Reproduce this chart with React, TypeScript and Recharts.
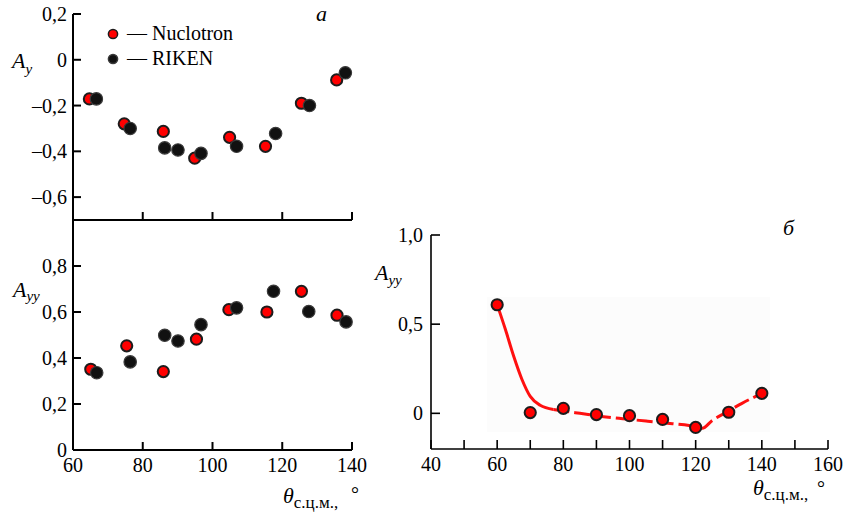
import React from 'react';
import { ComposedChart, Scatter, Line, XAxis, YAxis, Legend, ReferenceArea } from 'recharts';

const SERIF = 'Liberation Serif, Times New Roman, DejaVu Serif, serif';

// panel а, top: A_y vs angle
const nucAyAngle = [64.7, 74.7, 85.9, 94.9, 104.9, 115.2, 125.5, 135.6];
const nucAy = [-0.171, -0.28, -0.313, -0.43, -0.339, -0.378, -0.19, -0.088];
const rikenAyAngle = [66.7, 76.4, 86.3, 90.1, 96.7, 106.9, 118.1, 127.8, 138.1];
const rikenAy = [-0.171, -0.3, -0.385, -0.394, -0.409, -0.378, -0.322, -0.2, -0.057];

// panel а, bottom: A_yy vs angle
const nucAyyAngle = [65.1, 75.4, 85.9, 95.4, 104.7, 115.6, 125.5, 135.7];
const nucAyy = [0.351, 0.453, 0.341, 0.482, 0.61, 0.6, 0.69, 0.586];
const rikenAyyAngle = [66.8, 76.4, 86.3, 90.1, 96.7, 106.9, 117.5, 127.6, 138.3];
const rikenAyy = [0.336, 0.383, 0.499, 0.474, 0.545, 0.618, 0.69, 0.602, 0.557];

// panel б: measured points
const bAngle = [60, 70, 80, 90, 100, 110, 120, 130, 140];
const bAyy = [0.609, 0.004, 0.028, -0.007, -0.013, -0.034, -0.079, 0.006, 0.112];

// panel б: calculated curve (solid up to ~77°, dashed after)
const curveSolidAngle = [60, 62.5, 65, 67.5, 70, 73, 77];
const curveSolid = [0.61, 0.47, 0.32, 0.19, 0.095, 0.045, 0.022];
const curveDashAngle = [77, 80, 85, 95, 105, 113, 118, 122, 125, 129, 134, 140];
const curveDash = [0.022, 0.013, 0.0, -0.025, -0.043, -0.058, -0.068, -0.084, -0.04, 0.003, 0.056, 0.112];

// ticks
const xTicksA = [60, 80, 100, 120, 140];
const yTicksAy = [-0.6, -0.4, -0.2, 0, 0.2];
const yTicksAyy = [0, 0.2, 0.4, 0.6, 0.8];
const xTicksB = [40, 50, 60, 70, 80, 90, 100, 110, 120, 130, 140, 150, 160];
const yTicksB = [0, 0.5, 1.0];

const pts = (xs: number[], ys: number[]) => xs.map((x, i) => ({ x, y: ys[i] }));

const fmt = (v: number) => (v === 0 ? '0' : v.toFixed(1).replace('.', ',').replace('-', '–'));

const RedDot = (p: any) => <circle cx={p.cx} cy={p.cy} r={5.6} fill="#ff0000" stroke="#1c1c1c" strokeWidth={2} />;
const BlackDot = (p: any) => <circle cx={p.cx} cy={p.cy} r={6.2} fill="#111111" stroke="#3a3a3a" strokeWidth={1.2} />;

const axisLine = { stroke: '#000', strokeWidth: 2 };

// ticks point inward, so they are drawn here together with their labels
const makeXTick = (len: number, labelDy: number, sw: number, label: (v: number) => string) => (p: any) => (
  <g>
    <line x1={p.x} x2={p.x} y1={p.y} y2={p.y - len} stroke="#000" strokeWidth={sw} />
    <text x={p.x} y={p.y + labelDy} textAnchor="middle" fontFamily={SERIF} fontSize={20} fill="#000">
      {label(p.payload.value)}
    </text>
  </g>
);

const makeYTick = (len: number, gap: number, sw: number) => (p: any) => (
  <g>
    <line x1={p.x} x2={p.x + len} y1={p.y} y2={p.y} stroke="#000" strokeWidth={sw} />
    <text x={p.x - gap} y={p.y + 7} textAnchor="end" fontFamily={SERIF} fontSize={20} fill="#000">
      {fmt(p.payload.value)}
    </text>
  </g>
);

const AxisTitle = ({ x, y, main, sub, subDy = 5 }: any) => (
  <text x={x} y={y} fontFamily={SERIF} fill="#000" fontSize={22}>
    <tspan fontStyle="italic">{main}</tspan>
    <tspan fontSize={15} dy={subDy} fontStyle="italic">{sub}</tspan>
  </text>
);

const ThetaTitle = ({ x, y, degX, degY }: any) => (
  <g>
    <text x={x} y={y} fontFamily={SERIF} fill="#000" fontSize={22}>
      <tspan fontStyle="italic">θ</tspan>
      <tspan fontSize={17} dy={5}>с.ц.м.,</tspan>
    </text>
    <text x={degX} y={degY} fontFamily={SERIF} fill="#000" fontSize={20}>°</text>
  </g>
);

const TopNotes = () => (
  <g>
    <AxisTitle x={12} y={68} main="A" sub="y" subDy={6} />
    <text x={316} y={21} fontFamily={SERIF} fontStyle="italic" fontSize={22} fill="#000">а</text>
  </g>
);

const BottomNotes = () => (
  <g>
    <AxisTitle x={13} y={87} main="A" sub="yy" subDy={4} />
    <ThetaTitle x={283} y={293} degX={351} degY={291} />
  </g>
);

const RightNotes = () => (
  <g>
    <AxisTitle x={5} y={70} main="A" sub="yy" subDy={5} />
    <text x={413} y={25} fontFamily={SERIF} fontStyle="italic" fontSize={22} fill="#000">б</text>
    <ThetaTitle x={383} y={285} degX={447} degY={285} />
  </g>
);

const legendStroke: Record<string, string> = { Nuclotron: '#1c1c1c', RIKEN: '#3a3a3a' };

const LegendBox = ({ payload }: any) => (
  <svg width={150} height={52} style={{ display: 'block' }}>
    {(payload || []).map((p: any, i: number) => (
      <g key={p.value}>
        <circle cx={13} cy={14 + i * 25} r={4.6} fill={p.color} stroke={legendStroke[p.value]} strokeWidth={1.5} />
        <text x={27} y={20 + i * 25} fontSize={20} fontFamily={SERIF} fill="#000">
          — {p.value}
        </text>
      </g>
    ))}
  </svg>
);

export default function App() {
  return (
    <div
      style={{
        position: 'absolute',
        left: 0,
        top: 0,
        width: 850,
        height: 515,
        background: '#fff',
        fontFamily: SERIF,
      }}
    >
      {/* а, upper: A_y */}
      <div style={{ position: 'absolute', left: 0, top: 0 }}>
        <ComposedChart width={380} height={232} margin={{ top: 14, right: 28, bottom: 0, left: 0 }}>
          <XAxis
            dataKey="x"
            type="number"
            domain={[60, 140]}
            ticks={xTicksA}
            interval={0}
            height={12}
            tickSize={0}
            tickMargin={0}
            tick={makeXTick(8, 0, 2, () => '')}
            axisLine={axisLine}
            tickLine={false}
          />
          <YAxis
            dataKey="y"
            type="number"
            domain={[-0.7, 0.2]}
            ticks={yTicksAy}
            interval={0}
            width={73}
            tickSize={0}
            tickMargin={0}
            tick={makeYTick(8, 6, 2)}
            axisLine={axisLine}
            tickLine={false}
            label={<TopNotes />}
          />
          <Legend
            layout="vertical"
            align="center"
            verticalAlign="middle"
            wrapperStyle={{ left: 100, top: 20, width: 150, height: 52 }}
            content={<LegendBox />}
          />
          <Scatter name="Nuclotron" data={pts(nucAyAngle, nucAy)} fill="#ff0000" shape={RedDot} isAnimationActive={false} />
          <Scatter name="RIKEN" data={pts(rikenAyAngle, rikenAy)} fill="#111111" shape={BlackDot} isAnimationActive={false} />
        </ComposedChart>
      </div>

      {/* а, lower: A_yy */}
      <div style={{ position: 'absolute', left: 0, top: 210 }}>
        <ComposedChart width={380} height={305} margin={{ top: 10, right: 28, bottom: 0, left: 0 }}>
          <XAxis
            dataKey="x"
            type="number"
            domain={[60, 140]}
            ticks={xTicksA}
            interval={0}
            height={65}
            tickSize={0}
            tickMargin={0}
            tick={makeXTick(8, 22, 2, (v) => String(v))}
            axisLine={axisLine}
            tickLine={false}
          />
          <YAxis
            dataKey="y"
            type="number"
            domain={[0, 1.0]}
            ticks={yTicksAyy}
            interval={0}
            width={73}
            tickSize={0}
            tickMargin={0}
            tick={makeYTick(8, 6, 2)}
            axisLine={axisLine}
            tickLine={false}
            label={<BottomNotes />}
          />
          <Scatter name="Nuclotron" data={pts(nucAyyAngle, nucAyy)} fill="#ff0000" shape={RedDot} isAnimationActive={false} />
          <Scatter name="RIKEN" data={pts(rikenAyyAngle, rikenAyy)} fill="#111111" shape={BlackDot} isAnimationActive={false} />
        </ComposedChart>
      </div>

      {/* б: A_yy */}
      <div style={{ position: 'absolute', left: 370, top: 210 }}>
        <ComposedChart width={480} height={305} margin={{ top: 25, right: 22, bottom: 0, left: 0 }}>
          <XAxis
            dataKey="x"
            type="number"
            domain={[40, 160]}
            ticks={xTicksB}
            interval={0}
            height={66}
            tickSize={0}
            tickMargin={0}
            tick={makeXTick(9, 22, 1.6, (v) => (v % 20 === 0 ? String(v) : ''))}
            axisLine={{ stroke: '#000', strokeWidth: 1.6 }}
            tickLine={false}
          />
          <YAxis
            dataKey="y"
            type="number"
            domain={[-0.2, 1.0]}
            ticks={yTicksB}
            interval={0}
            width={61}
            tickSize={0}
            tickMargin={0}
            tick={makeYTick(9, 8, 1.6)}
            axisLine={{ stroke: '#000', strokeWidth: 1.6 }}
            tickLine={false}
            label={<RightNotes />}
          />
          <ReferenceArea x1={57} x2={142.4} y1={-0.105} y2={0.652} fill="#fcfcfc" fillOpacity={1} stroke="none" />
          <Line
            data={pts(curveSolidAngle, curveSolid)}
            dataKey="y"
            type="monotone"
            stroke="#ff1010"
            strokeWidth={3}
            dot={false}
            isAnimationActive={false}
          />
          <Line
            data={pts(curveDashAngle, curveDash)}
            dataKey="y"
            type="monotone"
            stroke="#ff1010"
            strokeWidth={3}
            strokeDasharray="16 5"
            dot={false}
            isAnimationActive={false}
          />
          <Scatter data={pts(bAngle, bAyy)} fill="#ff0000" shape={RedDot} isAnimationActive={false} />
        </ComposedChart>
      </div>
    </div>
  );
}
